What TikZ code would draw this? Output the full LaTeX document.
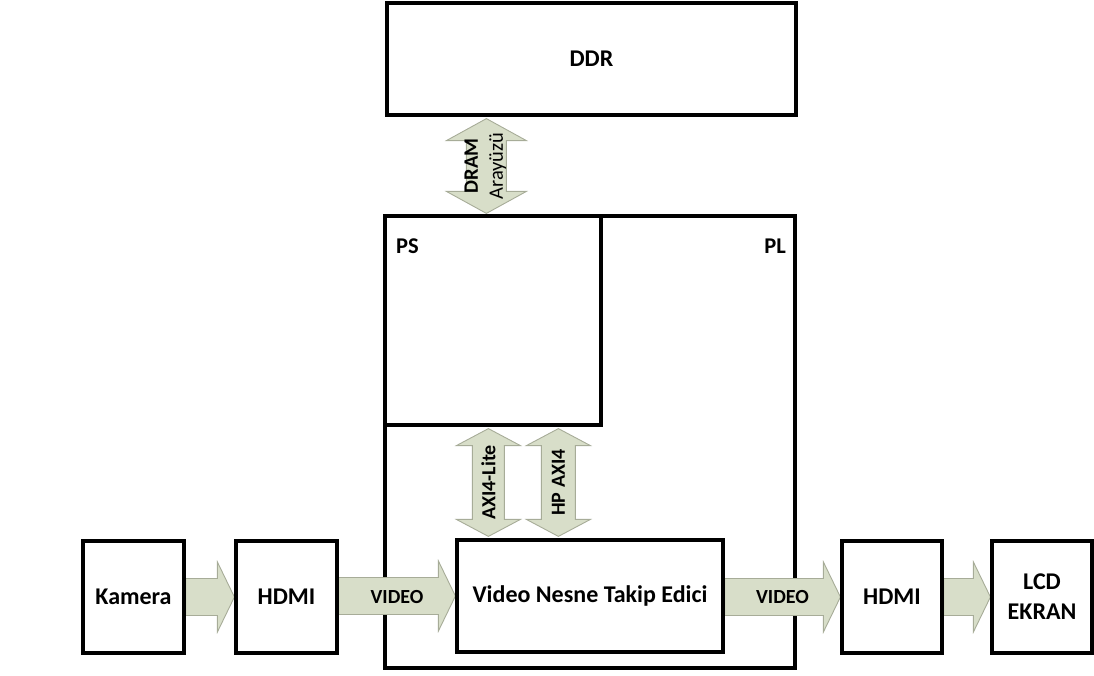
\documentclass[tikz,border=0pt]{standalone}
\usepackage{fontspec}
\setmainfont{Carlito}
\usetikzlibrary{calc}
\definecolor{arrfill}{HTML}{D8DEC9}
\definecolor{arredge}{HTML}{A7AC98}
\pgfdeclarelayer{back}
\pgfdeclarelayer{mid}
\pgfsetlayers{back,mid,main}
% vertical double block arrow: #1 top tip, #2 bottom tip, #3 head half width, #4 shaft half width, #5 head length
\newcommand\vdarr[5]{%
  \draw[blk] let \p1=(#1), \p2=(#2) in
   (\x1,\y1) -- (\x1+#3pt,\y1-#5pt) -- (\x1+#4pt,\y1-#5pt) -- (\x2+#4pt,\y2+#5pt)
   -- (\x2+#3pt,\y2+#5pt) -- (\x2,\y2) -- (\x2-#3pt,\y2+#5pt) -- (\x2-#4pt,\y2+#5pt)
   -- (\x1-#4pt,\y1-#5pt) -- (\x1-#3pt,\y1-#5pt) -- cycle;}
% horizontal single block arrow: #1 start, #2 tip, #3 head half width, #4 shaft half width, #5 head length
\newcommand\hsarr[5]{%
  \draw[blk] let \p1=(#1), \p2=(#2) in
   (\x1,\y2+#4pt) -- (\x2-#5pt,\y2+#4pt) -- (\x2-#5pt,\y2+#3pt) -- (\x2,\y2)
   -- (\x2-#5pt,\y2-#3pt) -- (\x2-#5pt,\y2-#4pt) -- (\x1,\y2-#4pt) -- cycle;}
\begin{document}
\begin{tikzpicture}[x=1pt,y=-1pt,
  box/.style={draw=black, line width=3.2pt, fill=white, rectangle, inner sep=0pt,
    font=\fontsize{24}{28}\selectfont\bfseries, align=center},
  blk/.style={fill=arrfill, draw=arredge, line width=0.9pt},
  lbl/.style={font=\fontsize{20}{23}\selectfont\bfseries, inner sep=0pt, align=center},
  corner/.style={font=\fontsize{22.5}{26}\selectfont\bfseries, inner sep=0pt}]
\useasboundingbox (0,0) rectangle (1094,675);

\begin{pgfonlayer}{back}
\node[box, minimum width=410pt, minimum height=452pt] (pl) at (590,442) {};
\node[box, minimum width=216pt, minimum height=209pt] (ps) at (493,320.5) {};
\end{pgfonlayer}
\node[corner, anchor=base west] (pstxt) at (396,253) {PS};
\node[corner, anchor=base east] (pltxt) at (786,253) {PL};

\node[box, minimum width=409pt, minimum height=112pt] (ddr) at (591.5,59) {DDR};
\node[box, minimum width=101pt, minimum height=112pt] (kam) at (133.5,597) {Kamera};
\node[box, minimum width=101pt, minimum height=112pt] (hdmi1) at (286.5,597) {HDMI};
\node[box, minimum width=266pt, minimum height=112pt] (vnt) at (590,596) {Video Nesne Takip Edici};
\node[box, minimum width=100pt, minimum height=112pt, font=\fontsize{24}{30}\selectfont\bfseries] (hdmi2) at (892,597) {HDMI};
\node[box, minimum width=100pt, minimum height=112pt, font=\fontsize{24}{30}\selectfont\bfseries] (lcd) at (1042,597) {LCD\\EKRAN};

\begin{pgfonlayer}{mid}
% DRAM interface
\coordinate (dt) at ($(ddr.south west)+(101,2)$);
\coordinate (db) at ($(pl.north west)+(103,-1)$);
\vdarr{dt}{db}{40}{20}{22}
\node[lbl, rotate=90, font=\fontsize{20.5}{23}\selectfont\bfseries] (dramtxt) at ($(dt)!0.5!(db)+(-1,0)$) {DRAM\\[2pt]\mdseries Arayüzü};
% AXI4-Lite
\coordinate (at) at ($(ps.south west)+(105,2)$);
\coordinate (ab) at ($(vnt.north west)+(33,-2)$);
\vdarr{at}{ab}{32}{16}{17}
\node[lbl, rotate=90] (axitxt) at ($(at)!0.5!(ab)$) {AXI4-Lite};
% HP AXI4
\coordinate (ht) at ($(ps.south west)+(175,2)$);
\coordinate (hb) at ($(vnt.north west)+(103,-2)$);
\vdarr{ht}{hb}{32}{17}{17}
\node[lbl, rotate=90] (hptxt) at ($(ht)!0.5!(hb)$) {HP AXI4};
% horizontal arrows
\hsarr{kam.east}{hdmi1.west}{35}{18.5}{17}
\hsarr{hdmi1.east}{vnt.west}{35}{18.5}{17}
\node[lbl] (v1) at ($(hdmi1.east)!0.5!(vnt.west)$) {VIDEO};
\hsarr{vnt.east}{hdmi2.west}{35}{18.5}{17}
\node[lbl] (v2) at ($(vnt.east)!0.5!(hdmi2.west)$) {VIDEO};
\hsarr{hdmi2.east}{lcd.west}{35}{18.5}{17}
\end{pgfonlayer}
\end{tikzpicture}
\end{document}
